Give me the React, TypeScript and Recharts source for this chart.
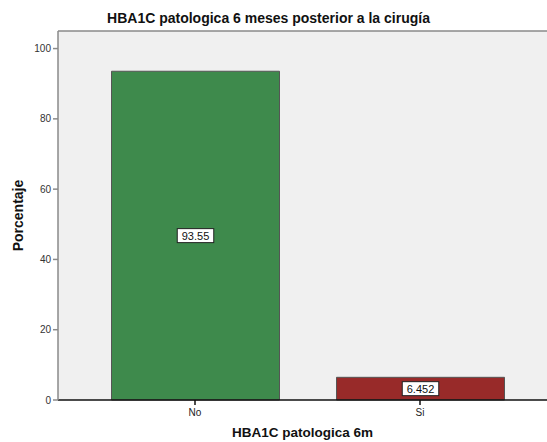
import React from "react";
import { BarChart, Bar, XAxis, YAxis, CartesianGrid, ReferenceLine, LabelList } from "recharts";

const categories = ["No", "Si"];
const percentages = [93.55, 6.452];
const yTicks = [0, 20, 40, 60, 80, 100];
const barColors = ["#3e8a4c", "#982a29"];

const data = categories.map((name, i) => ({ name, value: percentages[i], fill: barColors[i] }));

const FONT = "'Liberation Sans', Arial, sans-serif";

// white boxed value label placed in the middle of the bar
const ValueLabel = (props: any) => {
  const { x, y, width, height, value } = props;
  const text = String(value);
  const w = text.length * 6.1 + 6;
  const h = 14;
  const cx = x + width / 2;
  const cy = y + height / 2;
  return (
    <g>
      <rect x={cx - w / 2} y={cy - h / 2} width={w} height={h} fill="#ffffff" stroke="#222" strokeWidth={1} />
      <text x={cx} y={cy + 4} textAnchor="middle" fontSize={11} fontFamily={FONT} fill="#111">
        {text}
      </text>
    </g>
  );
};

export default function App() {
  return (
    <div style={{ position: "absolute", left: 0, top: 0, width: 547, height: 442, background: "#fff" }}>
      <div
        style={{
          position: "absolute",
          top: 10,
          left: 0,
          width: 537,
          textAlign: "center",
          fontFamily: FONT,
          fontWeight: "bold",
          fontSize: 14,
          color: "#111",
          lineHeight: "17px",
        }}
      >
        HBA1C patologica 6 meses posterior a la cirugía
      </div>
      <BarChart width={547} height={442} data={data} margin={{ top: 31, right: 0, bottom: 0, left: 0 }}>
        <CartesianGrid horizontal={false} vertical={false} fill="#f0f0f0" />
        <ReferenceLine y={105} stroke="#8a8a8a" strokeWidth={1.5} />
        <XAxis
          dataKey="name"
          height={42}
          padding={{ left: 24.5, right: 14.5 }}
          stroke="#111"
          strokeWidth={1.5}
          tickSize={5}
          tick={{ fontSize: 10, fill: "#222", fontFamily: FONT, dy: 2 }}
          label={{
            value: "HBA1C patologica 6m",
            position: "insideBottom",
            offset: 5,
            style: { fontSize: 13.5, fontWeight: "bold", fill: "#111", fontFamily: FONT },
          }}
        />
        <YAxis
          width={58}
          domain={[0, 105]}
          ticks={yTicks}
          interval={0}
          stroke="#8a8a8a"
          strokeWidth={1.5}
          tickSize={5}
          tick={{ fontSize: 10, fill: "#333", fontFamily: FONT }}
          label={{
            value: "Porcentaje",
            angle: -90,
            position: "insideLeft",
            offset: 18,
            style: { fontSize: 14, fontWeight: "bold", fill: "#111", fontFamily: FONT, textAnchor: "middle" },
          }}
        />
        <Bar dataKey="value" barSize={168} stroke="#555" strokeWidth={1} isAnimationActive={false}>
          <LabelList dataKey="value" content={ValueLabel} />
        </Bar>
      </BarChart>
    </div>
  );
}
